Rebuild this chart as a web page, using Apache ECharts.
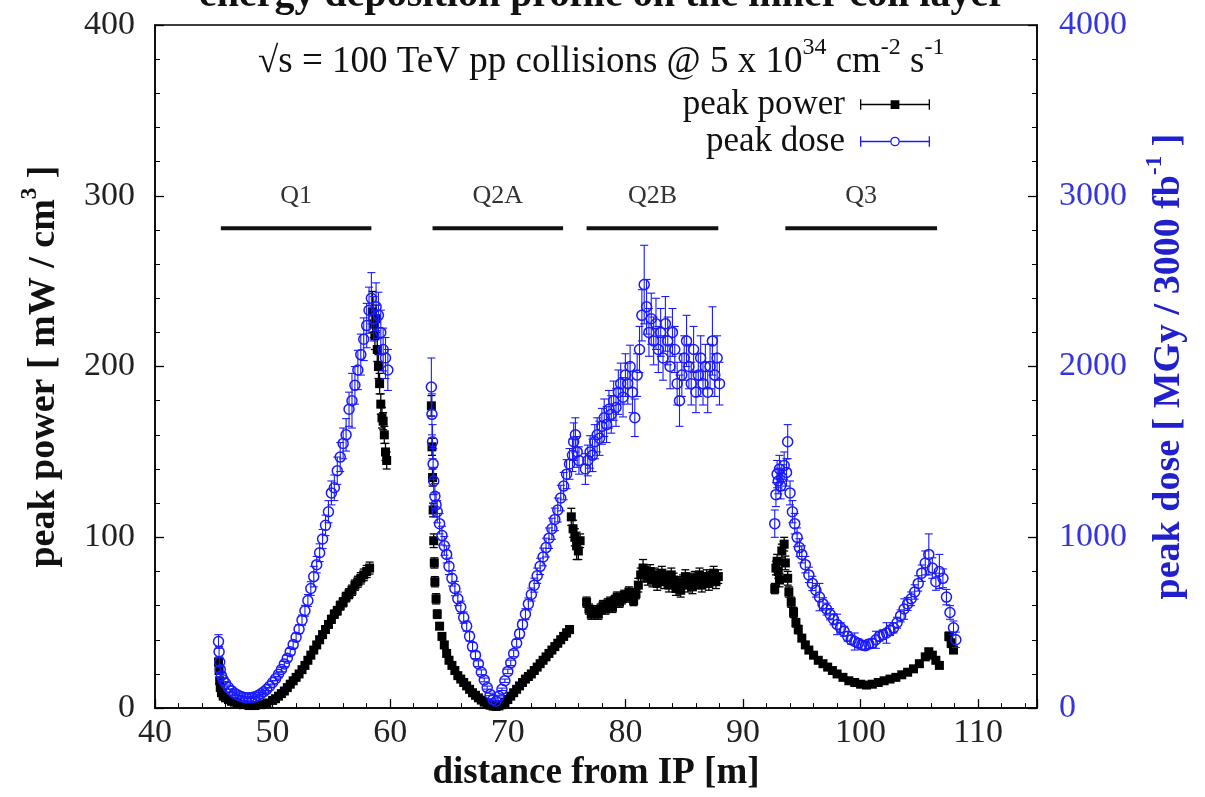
<!DOCTYPE html>
<html>
<head>
<meta charset="utf-8">
<script src="https://cdn.jsdelivr.net/npm/echarts@6/dist/echarts.min.js"></script>
<style>html,body{margin:0;padding:0;background:#fff}#c{width:1205px;height:797px}</style>
</head>
<body>
<div id="c"></div>
<script>
// ---- data: [distance (m), value, error] ----
const q1Power = [[45.40,27,2],[45.45,22,2],[45.50,16,1.5],[45.55,12,1],[45.65,9,1],[45.80,7,1],[46.00,6,0.5],[46.25,5,0.5],[46.50,4,0.5],[46.75,3.5,0.5],[47.00,3,0.5],[47.50,2,0.5],[48.00,1.5,0.3],[48.50,1.5,0.3],[49.00,2,0.3],[49.50,3,0.4],[50.00,4.5,0.5],[50.25,5.5,0.5],[50.50,7,0.6],[50.75,8.5,0.7],[51.00,10,0.8],[51.25,12,0.9],[51.50,14,1],[51.75,16,1],[52.00,18,1.2],[52.25,20,1.2],[52.50,22.5,1.3],[52.75,25,1.4],[53.00,28,1.5],[53.25,31,1.6],[53.50,34,1.7],[53.75,37,1.8],[54.00,40,2],[54.25,43,2],[54.50,46,2],[54.75,49,2.2],[55.00,52,2.3],[55.25,55,2.4],[55.50,57,2.5],[55.75,60,2.6],[56.00,62,2.7],[56.25,65,2.8],[56.50,67,2.9],[56.75,69,3],[57.00,72,3],[57.25,74,3.2],[57.50,76,3.3],[57.75,78,3.4],[58.00,80,3.5],[58.25,82,3.5],[58.50,232,12],[58.60,225,8],[58.70,218,8],[58.80,228,8],[58.90,210,7],[59.00,200,7],[59.10,190,6],[59.20,178,6],[59.30,170,6],[59.40,168,5],[59.50,160,5],[59.60,150,5],[59.70,145,5]];
const q1Dose = [[45.40,390,40],[45.45,330,30],[45.50,270,25],[45.55,225,20],[45.65,190,15],[45.80,165,12],[46.00,145,10],[46.25,120,8],[46.50,102,7],[46.75,88,6],[47.00,78,5],[47.25,70,5],[47.50,64,5],[47.75,60,5],[48.00,60,5],[48.25,62,5],[48.50,66,5],[48.75,74,5],[49.00,84,6],[49.25,96,6],[49.50,110,7],[49.75,128,8],[50.00,150,9],[50.25,172,10],[50.50,198,12],[50.75,226,13],[51.00,258,15],[51.25,292,17],[51.50,330,19],[51.75,372,21],[52.00,415,24],[52.25,462,26],[52.50,515,30],[52.75,570,32],[53.00,630,35],[53.25,700,40],[53.50,770,60],[53.75,840,48],[54.00,910,52],[54.25,990,56],[54.50,1070,60],[54.75,1150,65],[55.00,1260,70],[55.25,1290,75],[55.50,1390,80],[55.75,1470,85],[56.00,1550,90],[56.25,1600,95],[56.50,1750,100],[56.75,1800,160],[57.00,1890,110],[57.25,1980,115],[57.50,2070,120],[57.75,2160,125],[58.00,2240,130],[58.20,2330,135],[58.40,2400,150],[58.60,2280,130],[58.80,2350,140],[59.00,2300,135],[59.20,2200,130],[59.40,2100,125],[59.60,2050,120],[59.80,1980,120]];
const q2aPower = [[63.50,177,6],[63.55,153,5],[63.60,135,5],[63.65,116,4],[63.70,98,4],[63.75,85,3],[63.80,74,3],[63.90,64,3],[64.00,55,2.5],[64.20,48,2],[64.40,42,2],[64.60,37,1.8],[64.80,32,1.6],[65.00,28,1.4],[65.25,25,1.2],[65.50,22,1.1],[65.75,19,1],[66.00,17,0.9],[66.25,15,0.8],[66.50,13,0.7],[66.75,11,0.6],[67.00,9,0.5],[67.25,7.5,0.5],[67.50,6,0.4],[67.75,4.7,0.4],[68.00,3.5,0.3],[68.25,2.5,0.3],[68.50,1.7,0.2],[68.75,1.2,0.2],[69.00,1,0.2],[69.25,1.3,0.2],[69.50,2,0.2],[69.75,3.3,0.3],[70.00,5,0.4],[70.25,7,0.5],[70.50,9,0.6],[70.75,11,0.7],[71.00,13,0.8],[71.25,15,0.9],[71.50,17,1],[71.75,18.5,1],[72.00,20,1.1],[72.25,22,1.2],[72.50,24,1.3],[72.75,26,1.4],[73.00,28,1.5],[73.25,30,1.6],[73.50,32,1.7],[73.75,34,1.8],[74.00,36,1.9],[74.25,38,2],[74.50,40,2],[74.75,42,2.1],[75.00,44,2.2],[75.25,46,2.3],[75.40,112,5],[75.55,105,5],[75.70,100,5],[75.85,95,8],[76.00,92,5],[76.15,98,4]];
const q2aDose = [[63.50,1880,170],[63.55,1720,120],[63.60,1560,100],[63.65,1430,90],[63.70,1330,80],[63.80,1240,75],[63.90,1190,70],[64.00,1150,65],[64.20,1080,60],[64.40,1010,55],[64.60,950,55],[64.80,900,50],[65.00,830,48],[65.25,760,45],[65.50,700,42],[65.75,640,40],[66.00,590,36],[66.25,530,33],[66.50,480,30],[66.75,420,27],[67.00,360,24],[67.25,310,20],[67.50,260,17],[67.75,210,14],[68.00,165,11],[68.25,120,9],[68.50,80,7],[68.75,50,5],[69.00,40,4],[69.25,70,5],[69.50,110,7],[69.75,160,10],[70.00,215,13],[70.25,265,16],[70.50,320,19],[70.75,380,22],[71.00,435,25],[71.25,490,28],[71.50,550,32],[71.75,610,35],[72.00,665,38],[72.25,720,41],[72.50,775,45],[72.75,830,48],[73.00,885,52],[73.25,940,55],[73.50,995,60],[73.75,1050,62],[74.00,1105,66],[74.25,1160,70],[74.50,1230,75],[74.75,1300,80],[75.00,1370,85],[75.25,1430,90],[75.50,1480,95],[75.60,1560,110],[75.75,1600,100],[75.90,1500,90],[76.05,1450,80]];
const q2bPower = [[76.70,62,3],[76.90,58,3],[77.10,55,3],[77.30,56,3],[77.50,57,3],[77.70,55,3],[77.90,58,3],[78.10,60,3],[78.30,58,3],[78.50,61,3],[78.70,62,3],[78.90,59,3],[79.10,63,3],[79.30,65,3],[79.50,62,3],[79.70,64,3],[79.90,66,3],[80.10,65,3],[80.30,68,3],[80.50,66,3],[80.70,63,3],[80.90,67,3],[81.10,72,4],[81.30,78,4],[81.50,82,5],[81.70,79,4],[81.90,76,4],[82.10,80,4],[82.30,75,4],[82.50,78,4],[82.70,73,4],[82.90,77,4],[83.10,79,4],[83.30,74,4],[83.50,76,4],[83.70,72,4],[83.90,78,4],[84.10,75,4],[84.30,70,4],[84.50,73,4],[84.70,69,4],[84.90,74,4],[85.10,77,4],[85.30,72,4],[85.50,75,4],[85.70,71,4],[85.90,76,4],[86.10,74,4],[86.30,78,4],[86.50,72,4],[86.70,75,4],[86.90,77,4],[87.10,73,4],[87.30,76,4],[87.50,79,4],[87.70,74,4],[87.90,77,4]];
const q2bDose = [[76.60,1400,90],[76.80,1450,90],[77.00,1500,95],[77.20,1480,95],[77.40,1560,100],[77.60,1600,100],[77.80,1580,100],[78.00,1650,105],[78.20,1700,110],[78.40,1660,105],[78.60,1750,110],[78.80,1720,110],[79.00,1800,115],[79.20,1760,110],[79.40,1850,130],[79.60,1900,120],[79.80,1820,115],[80.00,1950,125],[80.20,1900,120],[80.40,2000,125],[80.60,1850,120],[80.80,1700,110],[81.00,1950,125],[81.20,2100,135],[81.40,2300,150],[81.60,2480,230],[81.80,2350,160],[82.00,2200,140],[82.20,2280,150],[82.40,2150,140],[82.60,2250,150],[82.80,2100,135],[83.00,2200,140],[83.20,2050,130],[83.40,2250,160],[83.60,2150,140],[83.80,2000,130],[84.00,2200,140],[84.20,2100,135],[84.40,1900,125],[84.60,1800,150],[84.80,1950,125],[85.00,2050,130],[85.20,2150,150],[85.40,2000,130],[85.60,1900,125],[85.80,2100,135],[86.00,1850,120],[86.20,1950,125],[86.40,2050,130],[86.60,1900,125],[86.80,2000,130],[87.00,1850,120],[87.20,2000,130],[87.40,2150,200],[87.60,1950,125],[87.80,2050,130],[88.00,1900,125]];
const q3Power = [[92.70,70,3],[92.80,82,4],[92.90,86,4],[93.00,80,4],[93.10,75,4],[93.30,92,4],[93.50,96,4],[93.60,85,4],[93.80,76,4],[93.90,68,3],[94.10,62,3],[94.30,56,3],[94.50,50,2.5],[94.70,46,2.5],[95.00,41,2],[95.30,37,2],[95.60,34,2],[96.00,31,1.8],[96.40,28,1.6],[96.80,26,1.5],[97.20,24,1.4],[97.60,22,1.3],[98.00,20,1.2],[98.50,18,1.1],[99.00,16,1],[99.50,15,1],[100.00,14,1],[100.50,13.5,1],[101.00,14,1],[101.50,15,1],[102.00,16,1],[102.50,17,1],[103.00,18,1.1],[103.50,19.5,1.2],[104.00,21,1.3],[104.50,23,1.4],[105.00,26,1.5],[105.50,30,1.7],[105.80,33,1.8],[106.10,31,1.8],[106.40,28,1.6],[106.70,25,1.5],[107.50,42,2.5],[107.70,38,2.5],[107.90,34,2]];
const q3Dose = [[92.70,1080,80],[92.80,1250,70],[92.90,1370,80],[93.00,1330,75],[93.10,1400,80],[93.20,1300,75],[93.30,1350,75],[93.50,1420,80],[93.70,1380,80],[93.80,1560,100],[94.00,1260,70],[94.20,1150,65],[94.40,1080,60],[94.60,1000,55],[94.80,940,52],[95.00,900,50],[95.30,840,48],[95.60,780,45],[95.90,730,42],[96.20,690,40],[96.50,650,80],[96.80,610,36],[97.10,580,35],[97.40,550,33],[97.70,520,32],[98.00,490,60],[98.30,470,30],[98.60,450,29],[98.90,420,28],[99.20,400,26],[99.50,390,50],[99.80,380,25],[100.10,370,25],[100.40,365,24],[100.70,375,25],[101.00,380,25],[101.30,400,50],[101.60,420,27],[101.90,430,28],[102.20,440,60],[102.50,455,30],[102.80,470,30],[103.10,500,32],[103.40,540,35],[103.70,580,60],[104.00,610,38],[104.30,640,40],[104.60,680,42],[104.90,730,45],[105.20,790,48],[105.50,850,70],[105.80,900,120],[106.10,820,60],[106.40,740,50],[106.70,800,100],[107.00,760,55],[107.30,650,45],[107.60,560,40],[107.90,470,40],[108.10,400,45]];

// magnet labels and extents (m), bar level on left axis
const magnetNames = ['Q1', 'Q2A', 'Q2B', 'Q3'];
const magnetStart = [45.6, 63.6, 76.7, 93.6];
const magnetEnd = [58.4, 74.7, 87.9, 106.5];
const magnetBarLevel = 281;
const magnetLabelLevel = 300;

const xTicks = [40, 115, 10];
const leftTicks = [0, 400, 100];
const rightTicks = [0, 4000, 1000];

const powerData = [].concat(q1Power, q2aPower, q2bPower, q3Power);
const doseData = [].concat(q1Dose, q2aDose, q2bDose, q3Dose);

const SERIF = "'Liberation Serif', 'DejaVu Serif', serif";
const BLUE = '#1a1aff';
const BLUE_TXT = '#3434e0';

function errSeries(data, yIdx, color, lw, z) {
  return {
    type: 'custom', yAxisIndex: yIdx, silent: true, z: z, data: data,
    encode: { x: 0, y: 1 },
    renderItem: function (params, api) {
      const x = api.value(0), y = api.value(1), e = api.value(2);
      const t = api.coord([x, y + e]), b = api.coord([x, y - e]);
      const hw = 4;
      const st = { stroke: color, lineWidth: lw };
      return { type: 'group', children: [
        { type: 'line', shape: { x1: t[0], y1: t[1], x2: b[0], y2: b[1] }, style: st },
        { type: 'line', shape: { x1: t[0] - hw, y1: t[1], x2: t[0] + hw, y2: t[1] }, style: st },
        { type: 'line', shape: { x1: b[0] - hw, y1: b[1], x2: b[0] + hw, y2: b[1] }, style: st }
      ]};
    }
  };
}

const powerIcon = 'path://M0,1h1.5v12h-1.5z M0,6.25h80v1.5h-80z M78.5,1h1.5v12h-1.5z M35,2h10v10h-10z';
const doseIcon = 'path://M0,1h1.5v12h-1.5z M0,6.25h34.5v1.5h-34.5z M45.5,6.25h34.5v1.5h-34.5z M78.5,1h1.5v12h-1.5z M34.5,7a5.5,5.5 0 1,0 11,0a5.5,5.5 0 1,0 -11,0z M36,7a4,4 0 1,1 8,0a4,4 0 1,1 -8,0z';

const chart = echarts.init(document.getElementById('c'), null, { renderer: 'canvas' });
chart.setOption({
  backgroundColor: '#fff',
  animation: false,
  title: {
    text: 'energy deposition profile on the inner coil layer',
    left: 'center', top: -24, padding: 0,
    textStyle: { fontFamily: SERIF, fontSize: 40, fontWeight: 'bold', color: '#111' }
  },
  graphic: [{
    type: 'text', left: 258, top: 36, z: 100,
    style: {
      text: '√s = 100 TeV pp collisions @ 5 x 10{sup|34} cm{sup|-2} s{sup|-1}',
      fontFamily: SERIF, fontSize: 37, fill: '#111', lineHeight: 52,
      rich: { sup: { fontFamily: SERIF, fontSize: 24, lineHeight: 26, verticalAlign: 'top', fill: '#111' } }
    }
  }],
  legend: {
    orient: 'vertical', right: 270, top: 82, itemGap: 2,
    itemWidth: 70, itemHeight: 14, align: 'right',
    textStyle: { fontFamily: SERIF, fontSize: 35, color: '#111', padding: [0, 10, 0, 0] },
    data: [
      { name: 'peak power', icon: powerIcon, itemStyle: { color: '#000', borderWidth: 0 } },
      { name: 'peak dose', icon: doseIcon, itemStyle: { color: BLUE, borderWidth: 0 } }
    ]
  },
  grid: { left: 155, right: 168, top: 25, bottom: 80, show: true, borderColor: '#000', borderWidth: 1.5 },
  xAxis: {
    type: 'value', min: xTicks[0], max: xTicks[1], interval: xTicks[2],
    name: 'distance from IP [m]', nameLocation: 'middle', nameGap: 46,
    nameTextStyle: { fontFamily: SERIF, fontSize: 37, fontWeight: 'bold', color: '#111' },
    axisLine: { show: true, lineStyle: { color: '#000', width: 1.5 } },
    axisTick: { show: true, inside: true, length: 9, lineStyle: { color: '#000', width: 1.3 } },
    minorTick: { show: true, splitNumber: 5, length: 5, lineStyle: { color: '#000', width: 1 } },
    axisLabel: { fontFamily: SERIF, fontSize: 34, color: '#222', margin: 8, showMaxLabel: false },
    splitLine: { show: false }
  },
  yAxis: [{
    type: 'value', position: 'left', min: leftTicks[0], max: leftTicks[1], interval: leftTicks[2],
    name: 'peak power [ mW / cm{sup|3} ]', nameLocation: 'middle', nameGap: 86, nameRotate: 90,
    nameTextStyle: { fontFamily: SERIF, fontSize: 38, fontWeight: 'bold', color: '#111', lineHeight: 50,
      rich: { sup: { fontFamily: SERIF, fontSize: 23, fontWeight: 'bold', lineHeight: 26, verticalAlign: 'top', color: '#111' } } },
    axisLine: { show: true, lineStyle: { color: '#000', width: 1.5 } },
    axisTick: { show: true, inside: true, length: 9, lineStyle: { color: '#000', width: 1.3 } },
    minorTick: { show: true, splitNumber: 5, length: 5, lineStyle: { color: '#000', width: 1 } },
    axisLabel: { fontFamily: SERIF, fontSize: 34, color: '#222', margin: 20 },
    splitLine: { show: false }
  }, {
    type: 'value', position: 'right', min: rightTicks[0], max: rightTicks[1], interval: rightTicks[2],
    name: 'peak dose [ MGy / 3000 fb{sup|-1} ]', nameLocation: 'middle', nameGap: 107, nameRotate: 90,
    nameTextStyle: { fontFamily: SERIF, fontSize: 38, fontWeight: 'bold', color: '#2020cc', lineHeight: 50,
      rich: { sup: { fontFamily: SERIF, fontSize: 23, fontWeight: 'bold', lineHeight: 26, verticalAlign: 'top', color: '#2020cc' } } },
    axisLine: { show: true, lineStyle: { color: '#000', width: 1.5 } },
    axisTick: { show: true, inside: true, length: 9, lineStyle: { color: '#000', width: 1.3 } },
    minorTick: { show: true, splitNumber: 5, length: 5, lineStyle: { color: '#000', width: 1 } },
    axisLabel: { fontFamily: SERIF, fontSize: 34, color: BLUE_TXT, margin: 22,
      formatter: function (v) { return String(v); } },
    splitLine: { show: false }
  }],
  series: [
    errSeries(powerData, 0, '#000', 1.3, 2),
    {
      name: 'peak power', type: 'scatter', yAxisIndex: 0, z: 3,
      data: powerData, encode: { x: 0, y: 1 },
      symbol: 'rect', symbolSize: 9, itemStyle: { color: '#000', opacity: 1 }
    },
    errSeries(doseData, 1, BLUE, 1.1, 4),
    {
      name: 'peak dose', type: 'scatter', yAxisIndex: 1, z: 5,
      data: doseData, encode: { x: 0, y: 1 },
      symbol: 'circle', symbolSize: 10,
      itemStyle: { color: 'rgba(0,0,0,0)', borderColor: BLUE, borderWidth: 1.5, opacity: 1 }
    },
    {
      type: 'custom', silent: true, z: 6, yAxisIndex: 0,
      data: magnetNames.map(function (n, i) { return [magnetStart[i], magnetEnd[i], i]; }),
      encode: { x: [0, 1] },
      renderItem: function (params, api) {
        const s = api.value(0), e = api.value(1), i = api.value(2);
        const p1 = api.coord([s, magnetBarLevel]), p2 = api.coord([e, magnetBarLevel]);
        const pl = api.coord([(s + e) / 2, magnetLabelLevel]);
        return { type: 'group', children: [
          { type: 'line', shape: { x1: p1[0], y1: p1[1], x2: p2[0], y2: p2[1] }, style: { stroke: '#111', lineWidth: 4 } },
          { type: 'text', x: pl[0], y: pl[1], style: { text: magnetNames[i], fontFamily: SERIF, fontSize: 26, fill: '#333', align: 'center', verticalAlign: 'middle' } }
        ]};
      }
    }
  ]
});
</script>
</body>
</html>
